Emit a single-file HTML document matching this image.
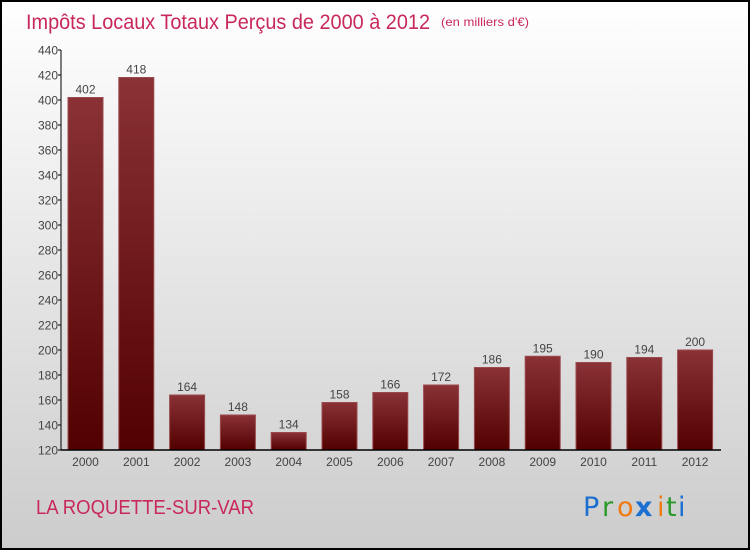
<!DOCTYPE html>
<html><head><meta charset="utf-8">
<style>
html,body{margin:0;padding:0;}
body{width:750px;height:550px;overflow:hidden;font-family:"Liberation Sans",sans-serif;}
</style></head>
<body>
<svg id="chart" width="750" height="550" xmlns="http://www.w3.org/2000/svg">
<defs>
<linearGradient id="bg" x1="0" y1="0" x2="0" y2="1">
<stop offset="0" stop-color="#ffffff"/><stop offset="1" stop-color="#cccccc"/>
</linearGradient>
<linearGradient id="bar" x1="0" y1="0" x2="0" y2="1">
<stop offset="0" stop-color="#8a3236"/><stop offset="1" stop-color="#520000"/>
</linearGradient>
</defs>
<rect x="1" y="1" width="748" height="548" fill="url(#bg)" stroke="#000" stroke-width="2"/>
<text x="26" y="29" font-size="21" fill="#c8285a" textLength="404" lengthAdjust="spacingAndGlyphs">Impôts Locaux Totaux Perçus de 2000 à 2012</text>
<text x="441" y="26" font-size="12" fill="#c8285a" textLength="88" lengthAdjust="spacingAndGlyphs">(en milliers d'€)</text>
<g id="yaxis"></g>
<g id="bars"></g>
<g id="xaxis"></g>
<text x="36" y="514" font-size="20" fill="#c8285a" textLength="218" lengthAdjust="spacingAndGlyphs">LA ROQUETTE-SUR-VAR</text>
<g font-size="27" font-family="'DejaVu Sans',sans-serif">
<text x="583" y="516" fill="#1a6fd0">P</text><text x="602" y="516" fill="#2a9a2a">r</text><text x="617" y="516" fill="#f07a10">o</text><text x="635" y="516" fill="#1a6fd0" font-weight="bold">x</text><text x="657" y="516" fill="#f07a10">i</text><text x="666" y="516" fill="#2a9a2a">t</text><text x="678" y="516" fill="#1a6fd0">i</text>
</g>
</svg>
<script>
const categories=["2000","2001","2002","2003","2004","2005","2006","2007","2008","2009","2010","2011","2012"];
const values=[402,418,164,148,134,158,166,172,186,195,190,194,200];
const yTicks=[120,140,160,180,200,220,240,260,280,300,320,340,360,380,400,420,440];
const NS="http://www.w3.org/2000/svg";
const x0=61,x1=721,yTop=50,yBot=450,yMin=120,yMax=440;
const y=v=>yBot-(v-yMin)/(yMax-yMin)*(yBot-yTop);
const step=50.8,bw=35,first=68;
const xb=i=>first+i*step;
function mk(t,a,p){const e=document.createElementNS(NS,t);for(const k in a)e.setAttribute(k,a[k]);p.appendChild(e);return e;}
const ya=document.getElementById('yaxis'),bg=document.getElementById('bars'),xa=document.getElementById('xaxis');
const al=mk('line',{x1:x0,y1:yTop,x2:x0,y2:yBot,stroke:'#000','stroke-width':1},ya);

yTicks.forEach(t=>{
 const l=mk('line',{x1:x0-3,y1:y(t),x2:x0,y2:y(t),stroke:'#000'},ya);
 
 const tx=mk('text',{x:x0-3,y:y(t)+4.5,'font-size':12,'text-anchor':'end',fill:'#444'},ya);
 tx.textContent=t;
 
});
values.forEach((v,i)=>{
 const r=mk('rect',{x:xb(i),y:y(v),width:bw,height:yBot-y(v),fill:'url(#bar)',stroke:'#9a4a4e','stroke-width':1},bg);
 
 const tx=mk('text',{x:xb(i)+bw/2,y:y(v)-4,'font-size':12,'text-anchor':'middle',fill:'#444'},bg);
 tx.textContent=v;
 
 const c=mk('text',{x:xb(i)+bw/2,y:466,'font-size':12,'text-anchor':'middle',fill:'#444'},xa);
 c.textContent=categories[i];
 
});
const xl=mk('line',{x1:x0,y1:yBot,x2:x1,y2:yBot,stroke:'#000','stroke-width':1.5},xa);

</script>
</body></html>
